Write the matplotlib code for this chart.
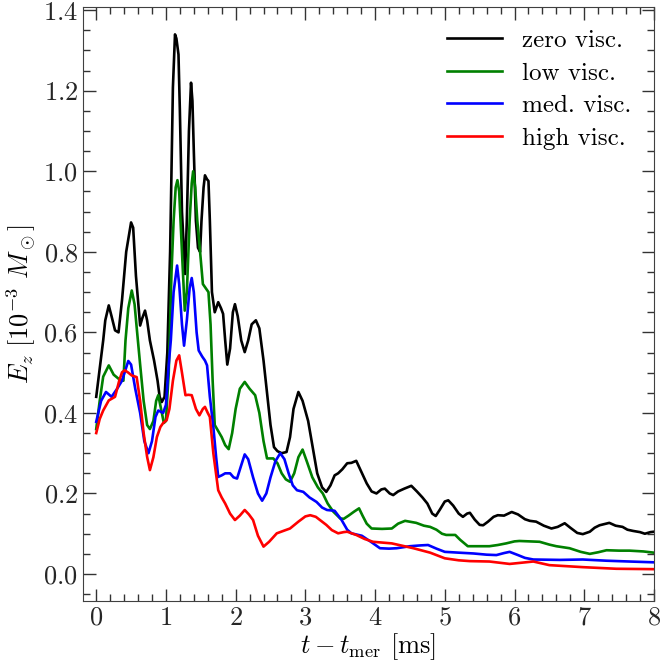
import numpy as np
import matplotlib
matplotlib.use("Agg")
import matplotlib.pyplot as plt
from matplotlib.ticker import MultipleLocator

plt.rcParams['font.family'] = 'serif'
plt.rcParams['font.serif'] = ['cmr10']
plt.rcParams['mathtext.fontset'] = 'cm'
plt.rcParams['axes.formatter.use_mathtext'] = True
plt.rcParams['axes.unicode_minus'] = False

# zero viscosity
t_zero = [0.00, 0.05, 0.10, 0.13, 0.18, 0.22, 0.27, 0.32, 0.37, 0.43, 0.50, 0.53, 0.57, 0.63,
          0.66, 0.70, 0.73, 0.77, 0.83, 0.88, 0.91, 0.94, 0.98, 1.02, 1.06, 1.08, 1.10, 1.13,
          1.15, 1.18, 1.20, 1.23, 1.275, 1.30, 1.33, 1.36, 1.38, 1.40, 1.43, 1.46, 1.49, 1.51,
          1.54, 1.56, 1.59, 1.61, 1.63, 1.66, 1.70, 1.75, 1.79, 1.82, 1.85, 1.88, 1.92, 1.96,
          1.99, 2.03, 2.08, 2.13, 2.18, 2.23, 2.29, 2.34, 2.40, 2.45, 2.50, 2.55, 2.60, 2.66,
          2.73, 2.78, 2.83, 2.90, 2.96, 3.04, 3.10, 3.17, 3.24, 3.30, 3.36, 3.42, 3.47, 3.53,
          3.60, 3.66, 3.73, 3.80, 3.88, 3.95, 4.02, 4.09, 4.14, 4.21, 4.26, 4.33, 4.42, 4.52,
          4.60, 4.68, 4.75, 4.82, 4.87, 4.93, 5.00, 5.05, 5.12, 5.20, 5.26, 5.32, 5.36, 5.43,
          5.50, 5.55, 5.62, 5.70, 5.76, 5.85, 5.96, 6.05, 6.15, 6.22, 6.31, 6.42, 6.53, 6.62,
          6.72, 6.80, 6.90, 6.98, 7.08, 7.15, 7.22, 7.36, 7.45, 7.55, 7.62, 7.70, 7.80, 7.87,
          7.95, 8.00]
e_zero = [0.44, 0.51, 0.58, 0.63, 0.667, 0.64, 0.605, 0.60, 0.68, 0.80, 0.873, 0.86, 0.74, 0.617,
          0.635, 0.654, 0.63, 0.58, 0.53, 0.48, 0.44, 0.427, 0.44, 0.55, 0.80, 1.00, 1.208, 1.34,
          1.33, 1.29, 1.15, 0.90, 0.745, 0.88, 1.10, 1.22, 1.175, 1.05, 0.877, 0.81, 0.80, 0.877,
          0.96, 0.99, 0.98, 0.976, 0.877, 0.70, 0.65, 0.675, 0.66, 0.646, 0.58, 0.52, 0.56, 0.65,
          0.67, 0.64, 0.58, 0.551, 0.58, 0.62, 0.63, 0.61, 0.53, 0.45, 0.37, 0.315, 0.305, 0.30,
          0.303, 0.34, 0.41, 0.452, 0.43, 0.38, 0.32, 0.25, 0.215, 0.204, 0.22, 0.245, 0.25, 0.26,
          0.275, 0.276, 0.281, 0.255, 0.225, 0.205, 0.20, 0.21, 0.212, 0.20, 0.196, 0.205, 0.212, 0.219,
          0.205, 0.19, 0.175, 0.15, 0.144, 0.16, 0.18, 0.183, 0.17, 0.15, 0.142, 0.15, 0.152, 0.135,
          0.122, 0.121, 0.13, 0.142, 0.146, 0.145, 0.154, 0.148, 0.136, 0.132, 0.13, 0.12, 0.113, 0.117,
          0.126, 0.115, 0.102, 0.099, 0.105, 0.115, 0.121, 0.127, 0.12, 0.117, 0.11, 0.107, 0.104, 0.100,
          0.104, 0.105]

# low viscosity
t_low = [0.00, 0.05, 0.10, 0.18, 0.25, 0.32, 0.39, 0.42, 0.46, 0.51, 0.55, 0.58, 0.63, 0.68,
         0.73, 0.77, 0.82, 0.86, 0.89, 0.93, 0.97, 1.00, 1.04, 1.08, 1.11, 1.14, 1.165, 1.19,
         1.23, 1.27, 1.30, 1.34, 1.37, 1.39, 1.42, 1.45, 1.49, 1.53, 1.57, 1.61, 1.64, 1.67,
         1.70, 1.75, 1.80, 1.85, 1.90, 1.95, 2.00, 2.06, 2.13, 2.20, 2.28, 2.34, 2.40, 2.45,
         2.54, 2.60, 2.66, 2.72, 2.78, 2.84, 2.90, 2.96, 3.02, 3.10, 3.18, 3.25, 3.32, 3.40,
         3.50, 3.55, 3.62, 3.70, 3.77, 3.82, 3.88, 3.95, 4.10, 4.24, 4.33, 4.43, 4.59, 4.70,
         4.79, 4.88, 4.96, 5.02, 5.15, 5.22, 5.33, 5.50, 5.64, 5.76, 5.88, 6.00, 6.07, 6.36,
         6.50, 6.60, 6.79, 6.95, 7.08, 7.20, 7.32, 7.50, 7.65, 7.85, 8.00]
e_low = [0.36, 0.43, 0.49, 0.518, 0.495, 0.485, 0.48, 0.58, 0.66, 0.704, 0.67, 0.613, 0.52, 0.43,
         0.37, 0.36, 0.38, 0.43, 0.444, 0.41, 0.375, 0.38, 0.50, 0.75, 0.877, 0.96, 0.978, 0.95,
         0.80, 0.654, 0.70, 0.877, 0.97, 1.00, 0.96, 0.877, 0.80, 0.72, 0.71, 0.70, 0.62, 0.48,
         0.37, 0.355, 0.34, 0.32, 0.31, 0.35, 0.41, 0.46, 0.477, 0.46, 0.444, 0.40, 0.33, 0.287,
         0.287, 0.275, 0.25, 0.235, 0.229, 0.25, 0.29, 0.309, 0.28, 0.24, 0.215, 0.20, 0.175, 0.155,
         0.138, 0.137, 0.145, 0.155, 0.163, 0.145, 0.125, 0.113, 0.112, 0.113, 0.125, 0.132, 0.127, 0.12,
         0.117, 0.11, 0.10, 0.097, 0.097, 0.085, 0.069, 0.069, 0.069, 0.072, 0.076, 0.081, 0.082, 0.08,
         0.073, 0.069, 0.064, 0.055, 0.050, 0.054, 0.059, 0.058, 0.058, 0.056, 0.053]

# medium viscosity
t_med = [0.00, 0.07, 0.14, 0.22, 0.30, 0.37, 0.46, 0.50, 0.56, 0.63, 0.69, 0.75, 0.80, 0.85,
         0.89, 0.96, 1.00, 1.04, 1.07, 1.11, 1.16, 1.19, 1.23, 1.26, 1.30, 1.34, 1.37, 1.40,
         1.44, 1.47, 1.52, 1.56, 1.59, 1.63, 1.68, 1.72, 1.75, 1.80, 1.85, 1.92, 1.97, 2.02,
         2.08, 2.13, 2.18, 2.25, 2.32, 2.38, 2.44, 2.50, 2.57, 2.64, 2.70, 2.76, 2.82, 2.88,
         2.97, 3.06, 3.16, 3.24, 3.31, 3.42, 3.52, 3.60, 3.66, 3.81, 3.94, 4.07, 4.20, 4.31,
         4.50, 4.65, 4.76, 4.88, 5.00, 5.20, 5.41, 5.60, 5.74, 5.85, 5.93, 6.05, 6.15, 6.27,
         6.65, 6.98, 7.32, 7.65, 8.00]
e_med = [0.378, 0.43, 0.452, 0.44, 0.46, 0.48, 0.529, 0.52, 0.46, 0.40, 0.33, 0.30, 0.33, 0.39,
         0.406, 0.40, 0.42, 0.52, 0.58, 0.70, 0.766, 0.72, 0.62, 0.567, 0.63, 0.71, 0.735, 0.70,
         0.60, 0.555, 0.54, 0.53, 0.518, 0.44, 0.365, 0.29, 0.241, 0.245, 0.25, 0.25, 0.24, 0.237,
         0.27, 0.297, 0.285, 0.24, 0.20, 0.182, 0.20, 0.24, 0.28, 0.30, 0.285, 0.25, 0.22, 0.208,
         0.204, 0.19, 0.179, 0.165, 0.159, 0.157, 0.134, 0.11, 0.101, 0.095, 0.08, 0.064, 0.063, 0.064,
         0.069, 0.071, 0.072, 0.063, 0.055, 0.053, 0.051, 0.048, 0.047, 0.052, 0.055, 0.047, 0.040, 0.036,
         0.035, 0.036, 0.033, 0.031, 0.029]

# high viscosity
t_high = [0.00, 0.05, 0.10, 0.18, 0.27, 0.33, 0.37, 0.41, 0.46, 0.51, 0.58, 0.63, 0.68, 0.73,
          0.77, 0.82, 0.87, 0.92, 0.96, 1.01, 1.05, 1.10, 1.15, 1.19, 1.23, 1.28, 1.32, 1.37,
          1.43, 1.48, 1.53, 1.56, 1.60, 1.63, 1.68, 1.75, 1.80, 1.85, 1.92, 1.99, 2.06, 2.13,
          2.19, 2.25, 2.32, 2.40, 2.48, 2.59, 2.70, 2.78, 2.90, 3.00, 3.07, 3.15, 3.24, 3.30,
          3.38, 3.47, 3.55, 3.60, 3.73, 3.85, 3.97, 4.24, 4.55, 4.79, 5.00, 5.20, 5.36, 5.64,
          5.93, 6.10, 6.27, 6.50, 6.98, 7.46, 8.00]
e_high = [0.35, 0.385, 0.406, 0.431, 0.44, 0.48, 0.501, 0.506, 0.50, 0.493, 0.489, 0.43, 0.35, 0.291,
          0.258, 0.29, 0.34, 0.365, 0.375, 0.382, 0.41, 0.48, 0.53, 0.543, 0.50, 0.444, 0.445, 0.444,
          0.41, 0.394, 0.41, 0.415, 0.40, 0.39, 0.30, 0.208, 0.19, 0.175, 0.15, 0.134, 0.145, 0.159,
          0.148, 0.134, 0.095, 0.068, 0.08, 0.101, 0.108, 0.113, 0.13, 0.143, 0.146, 0.142, 0.13, 0.122,
          0.109, 0.101, 0.104, 0.105, 0.097, 0.087, 0.08, 0.076, 0.064, 0.053, 0.039, 0.034, 0.032, 0.031,
          0.025, 0.028, 0.031, 0.022, 0.017, 0.013, 0.012]

labels = ["zero visc.", "low visc.", "med. visc.", "high visc."]
colors = ["black", "green", "blue", "red"]

fig = plt.figure(figsize=(6.67, 6.61), dpi=100)
ax = fig.add_axes([0.1244, 0.0908, 0.856, 0.8986])

for t, e, lab, c in zip([t_zero, t_low, t_med, t_high],
                        [e_zero, e_low, e_med, e_high], labels, colors):
    ax.plot(t, e, color=c, lw=1.9, label=lab)

ax.set_xlim(-0.19, 8)
ax.set_ylim(-0.067, 1.408)
ax.xaxis.set_major_locator(MultipleLocator(1))
ax.xaxis.set_minor_locator(MultipleLocator(0.2))
ax.yaxis.set_major_locator(MultipleLocator(0.2))
ax.yaxis.set_minor_locator(MultipleLocator(0.05))
ax.tick_params(which='both', direction='in', top=True, right=True, labelsize=19,
               colors='0.2', labelcolor='0.15')
ax.tick_params(which='major', length=9, width=1)
ax.tick_params(which='minor', length=5, width=1)
for s in ax.spines.values():
    s.set_color('0.25')

ax.set_xlabel(r"$t - t_{\rm mer}$ [ms]", fontsize=19, labelpad=1)
ax.set_ylabel(r"$E_z\ [10^{-3}\ M_\odot]$", fontsize=19)

ax.legend(loc='upper right', frameon=False, fontsize=18, handlelength=2.2,
          labelspacing=0.4, borderaxespad=0.5)

fig.savefig("out.png", dpi=100)
